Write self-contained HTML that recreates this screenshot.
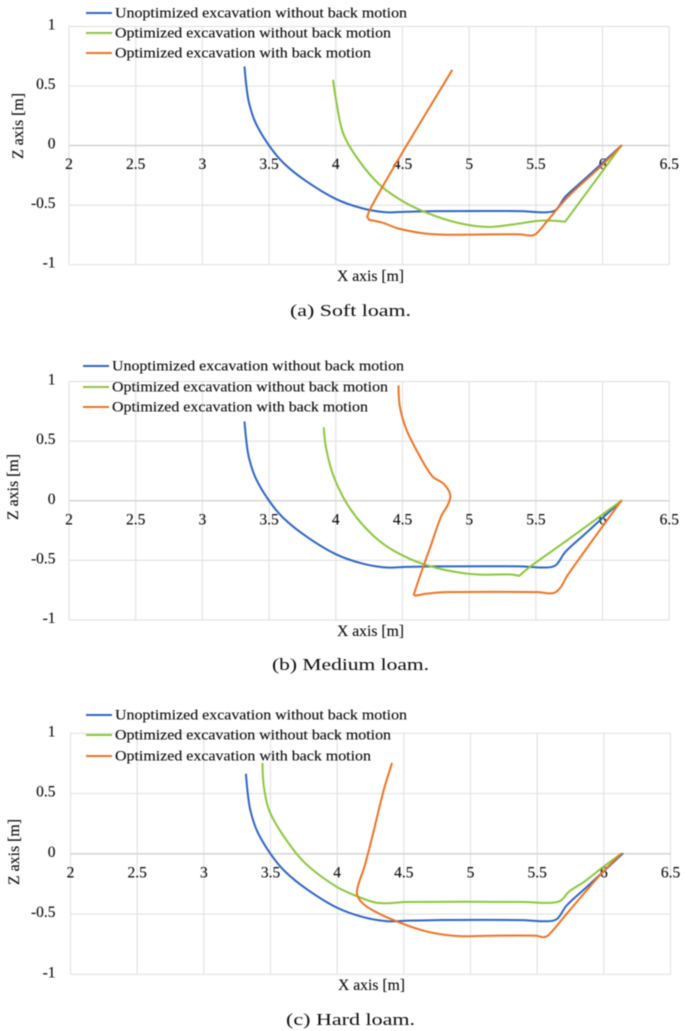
<!DOCTYPE html>
<html lang="en">
<head>
<meta charset="utf-8">
<title>Excavation trajectories</title>
<style>
html,body{margin:0;padding:0;background:#fff;}
#figure{display:block;width:685px;height:1031px;filter:blur(0.4px);}
text{font-family:"Liberation Serif",serif;fill:#0c0c0c;stroke:#0c0c0c;stroke-width:0.12px;}
text.cap{stroke:none;}
</style>
</head>
<body>
<svg id="figure" xmlns="http://www.w3.org/2000/svg" width="685" height="1031" viewBox="0 0 685 1031"></svg>
<script>
var xTicks = [2, 2.5, 3, 3.5, 4, 4.5, 5, 5.5, 6, 6.5];
var zTicks = [1, 0.5, 0, -0.5, -1];
var seriesNames = ["Unoptimized excavation without back motion", "Optimized excavation without back motion", "Optimized excavation with back motion"];

var unoptX = [3.316,3.33,3.35,3.40,3.50,3.61,3.78,4.0,4.20,4.38,4.53,4.76,5.38,5.58,5.65,5.72,5.87,6.0,6.14];
var unoptZ = [0.658,0.496,0.356,0.188,0,-0.148,-0.30,-0.448,-0.527,-0.56,-0.555,-0.55,-0.55,-0.56,-0.54,-0.43,-0.277,-0.144,0];

var softGreenX = [3.98,4.006,4.055,4.17,4.33,4.53,4.76,4.955,5.15,5.35,5.54,5.72,6.14];
var softGreenZ = [0.546,0.356,0.104,-0.12,-0.33,-0.485,-0.597,-0.658,-0.683,-0.658,-0.63,-0.638,0];
var softOrangeX = [4.87,4.53,4.365,4.26,4.235,4.25,4.35,4.465,4.66,4.825,5.38,5.46,5.505,5.58,5.74,6.0,6.14];
var softOrangeZ = [0.63,0,-0.316,-0.527,-0.597,-0.625,-0.647,-0.695,-0.737,-0.748,-0.745,-0.756,-0.737,-0.64,-0.43,-0.16,0];

var mediumGreenX = [3.91,3.925,3.975,4.07,4.2,4.365,4.56,4.76,4.955,5.085,5.315,5.375,5.46,5.74,6.14];
var mediumGreenZ = [0.61,0.456,0.232,0,-0.2,-0.37,-0.49,-0.565,-0.607,-0.62,-0.618,-0.63,-0.55,-0.327,0];
var mediumOrangeX = [4.47,4.48,4.53,4.63,4.725,4.81,4.858,4.84,4.79,4.71,4.63,4.585,4.595,4.675,4.825,5.51,5.63,5.683,5.74,6.14];
var mediumOrangeZ = [0.96,0.79,0.595,0.372,0.204,0.14,0.05,-0.034,-0.13,-0.383,-0.635,-0.787,-0.795,-0.78,-0.766,-0.766,-0.775,-0.73,-0.62,0];

var hardGreenX = [3.44,3.45,3.49,3.6,3.76,3.99,4.155,4.285,4.385,4.515,5.4,5.595,5.675,5.74,5.855,6.0,6.13];
var hardGreenZ = [0.748,0.56,0.36,0.144,-0.078,-0.27,-0.355,-0.404,-0.41,-0.40,-0.40,-0.407,-0.39,-0.313,-0.23,-0.105,0];
var hardOrangeX = [4.41,4.35,4.27,4.205,4.155,4.15,4.19,4.285,4.45,4.645,4.81,4.94,5.135,5.495,5.545,5.587,5.725,5.985,6.13];
var hardOrangeZ = [0.748,0.532,0.172,-0.105,-0.27,-0.34,-0.41,-0.48,-0.562,-0.637,-0.673,-0.684,-0.68,-0.68,-0.692,-0.673,-0.493,-0.16,0];

var NS = "http://www.w3.org/2000/svg";
var figure = document.getElementById("figure");
var colors = ["#2e66c4", "#8bc83c", "#ee7424"];
var legendWidths = [292, 276, 256];

function mk(parent, tag, attrs, txt) {
  var el = document.createElementNS(NS, tag);
  for (var k in attrs) { el.setAttribute(k, attrs[k]); }
  if (txt !== undefined) { el.textContent = txt; }
  parent.appendChild(el);
  return el;
}

// Smooth path through the points; long segments dominate the tangent so flats stay flat.
function smoothPath(pts) {
  var tangents = pts.map(function (pt, i) {
    if (i === 0 || i === pts.length - 1) { return [0, 0]; }
    var a = [pt[0] - pts[i - 1][0], pt[1] - pts[i - 1][1]];
    var b = [pts[i + 1][0] - pt[0], pts[i + 1][1] - pt[1]];
    var la = Math.hypot(a[0], a[1]) || 1;
    var lb = Math.hypot(b[0], b[1]) || 1;
    var cos = (a[0] * b[0] + a[1] * b[1]) / (la * lb);
    if (cos < 0.7) { return [0, 0]; }
    var tx = a[0] + b[0];
    var ty = a[1] + b[1];
    var lt = Math.hypot(tx, ty) || 1;
    return [tx / lt, ty / lt];
  });
  var d = "M" + pts[0][0].toFixed(2) + " " + pts[0][1].toFixed(2);
  for (var i = 0; i < pts.length - 1; i++) {
    var len = Math.hypot(pts[i + 1][0] - pts[i][0], pts[i + 1][1] - pts[i][1]) * 0.33;
    d += "C" + (pts[i][0] + tangents[i][0] * len).toFixed(2) + " " + (pts[i][1] + tangents[i][1] * len).toFixed(2) +
         " " + (pts[i + 1][0] - tangents[i + 1][0] * len).toFixed(2) + " " + (pts[i + 1][1] - tangents[i + 1][1] * len).toFixed(2) +
         " " + pts[i + 1][0].toFixed(2) + " " + pts[i + 1][1].toFixed(2);
  }
  return d;
}

function drawPanel(p) {
  var g = mk(figure, "g", {});
  
  

  function sx(v) { return p.left + (v - 2) / 4.5 * (p.right - p.left); }
  function sz(v) { return p.bottom - (v + 1) / 2 * (p.bottom - p.top); }

  xTicks.forEach(function (t) {
    var line = mk(g, "line", {x1: sx(t), x2: sx(t), y1: p.top, y2: p.bottom, stroke: "#e3e3e3", "stroke-width": 1.2});
    
    
  });
  zTicks.forEach(function (t) {
    var line = mk(g, "line", {x1: p.left, x2: p.right, y1: sz(t), y2: sz(t), stroke: t === 0 ? "#d6d6d6" : "#e3e3e3", "stroke-width": t === 0 ? 1.6 : 1.2});
    
    
  });

  xTicks.forEach(function (t) {
    var label = mk(g, "text", {x: sx(t), y: sz(0) + 23.5, "text-anchor": "middle", "font-size": 15.5}, String(t));
    
    
  });
  zTicks.forEach(function (t) {
    var label = mk(g, "text", {x: 55.5, y: sz(t) + 3, "text-anchor": "end", "font-size": 15.5}, String(t));
    
    
  });

  p.series.forEach(function (s, i) {
    var pts = s.x.map(function (v, j) { return [sx(v), sz(s.z[j])]; });
    var line = mk(g, "path", {d: smoothPath(pts), fill: "none", stroke: colors[i], "stroke-width": 2, "stroke-linejoin": "round", "stroke-linecap": "round"});
    
    
  });

  seriesNames.forEach(function (name, i) {
    var key = mk(g, "line", {x1: p.legendX, x2: p.legendX + 26, y1: p.legendY[i], y2: p.legendY[i], stroke: colors[i], "stroke-width": 2});
    
    
    var label = mk(g, "text", {x: p.legendX + 29, y: p.legendY[i] + 4.5, "font-size": 15, textLength: legendWidths[i], lengthAdjust: "spacingAndGlyphs"}, name);
    
    
  });

  var xTitle = mk(g, "text", {x: p.xTitleX, y: p.xTitleY, "text-anchor": "middle", "font-size": 15.5, textLength: 67, lengthAdjust: "spacingAndGlyphs"}, "X axis [m]");
  
  

  var zTitle = mk(g, "text", {transform: "translate(" + p.zTitleX + "," + p.zTitleY + ") rotate(-90)", "text-anchor": "middle", "font-size": 15.5, textLength: 66, lengthAdjust: "spacingAndGlyphs"}, "Z axis [m]");
  
  

  var caption = mk(g, "text", {class: "cap", x: 350.5, y: p.captionY, "text-anchor": "middle", "font-size": 16.5, textLength: p.captionW, lengthAdjust: "spacingAndGlyphs"}, p.caption);
  
  
}

drawPanel({
  id: "soft-loam", left: 69, right: 669.3, top: 26.5, bottom: 264.7,
  legendX: 86, legendY: [13, 33, 53],
  xTitleX: 370.5, xTitleY: 281, zTitleX: 23, zTitleY: 126,
  caption: "(a) Soft loam.", captionY: 316, captionW: 121,
  series: [{x: unoptX, z: unoptZ}, {x: softGreenX, z: softGreenZ}, {x: softOrangeX, z: softOrangeZ}]
});
drawPanel({
  id: "medium-loam", left: 69, right: 669.3, top: 381.5, bottom: 620,
  legendX: 83, legendY: [366, 387, 407],
  xTitleX: 370.5, xTitleY: 636, zTitleX: 18, zTitleY: 487,
  caption: "(b) Medium loam.", captionY: 670, captionW: 157,
  series: [{x: unoptX, z: unoptZ}, {x: mediumGreenX, z: mediumGreenZ}, {x: mediumOrangeX, z: mediumOrangeZ}]
});
drawPanel({
  id: "hard-loam", left: 70.5, right: 670.5, top: 733.3, bottom: 974.3,
  legendX: 86, legendY: [715, 735, 756],
  xTitleX: 371.5, xTitleY: 990, zTitleX: 19, zTitleY: 852,
  caption: "(c) Hard loam.", captionY: 1025, captionW: 129,
  series: [{x: unoptX, z: unoptZ}, {x: hardGreenX, z: hardGreenZ}, {x: hardOrangeX, z: hardOrangeZ}]
});
</script>
</body>
</html>
